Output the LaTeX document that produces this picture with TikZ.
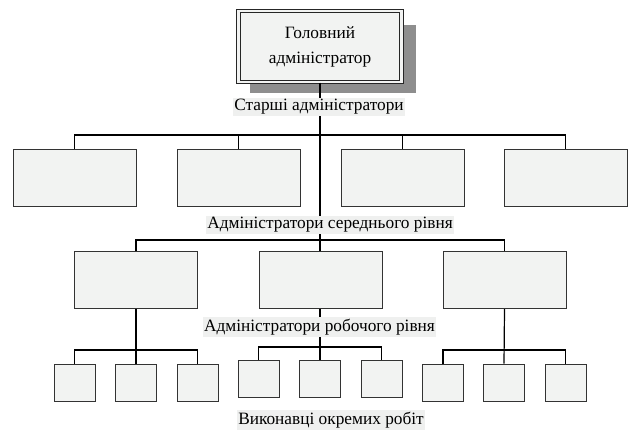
\documentclass[tikz,border=0pt]{standalone}
\usepackage{fontspec}
\setmainfont{Liberation Serif}
\definecolor{boxfill}{HTML}{F2F3F2}
\definecolor{lblfill}{HTML}{EFF0EF}
\definecolor{shadowgray}{HTML}{8E8E8E}
\tikzset{
  box/.style={draw=black!80, fill=boxfill, line width=1pt, minimum width=123pt, minimum height=57pt, inner sep=0pt},
  sbox/.style={box, minimum width=41pt, minimum height=37pt},
  lbl/.style={fill=lblfill, inner sep=1.5pt, font=\fontsize{17.3}{20}\selectfont},
  conn/.style={line width=1.2pt, draw=black},
}
\begin{document}
\begin{tikzpicture}[x=1pt,y=-1pt]
\useasboundingbox (0,0) rectangle (628,431);
% shadow of the top box
\fill[shadowgray] (250,25) rectangle (416,93);
\node[draw=black!85, fill=boxfill, double=boxfill, line width=1pt, double distance=2.6pt,
      minimum width=163pt, minimum height=71pt, inner sep=0pt, align=center,
      font=\fontsize{17.3}{25}\selectfont] (top) at (320,46.5) {Головний\\адміністратор};
% level 1
\node[box] (a1) at (74.5,177.5) {};
\node[box] (a2) at (238.5,177.5) {};
\node[box] (a3) at (402.5,177.5) {};
\node[box] (a4) at (565.5,177.5) {};
% level 2
\node[box] (b1) at (136,280) {};
\node[box] (b2) at (320.5,280) {};
\node[box] (b3) at (504.5,280) {};
% level 3
\node[sbox] (c1) at (74.5,382.5) {};
\node[sbox] (c2) at (136,382.5) {};
\node[sbox] (c3) at (197.5,382.5) {};
\node[sbox] (d1) at (258.5,379) {};
\node[sbox] (d2) at (320,379) {};
\node[sbox] (d3) at (381.5,379) {};
\node[sbox] (e1) at (443,382.5) {};
\node[sbox] (e2) at (504,382.5) {};
\node[sbox] (e3) at (565.5,382.5) {};
% junctions
\coordinate (h1) at (320,135);
\coordinate (h2) at (320,240);
\coordinate (h3a) at (136,350);
\coordinate (h3b) at (320,347);
\coordinate (h3c) at (504,350);
% connectors
\draw[conn] (top.south) -- (top.south |- b2.north);
\draw[conn] (a1.north) |- (h1) -| (a4.north);
\draw[conn] (a2.north) |- (h1);
\draw[conn] (a3.north) |- (h1);
\draw[conn] (b1.north) |- (h2) -| (b3.north);
\draw[conn] (b1.south) -- (c2.north);
\draw[conn] (c1.north) |- (h3a) -| (c3.north);
\draw[conn] (b2.south -| h3b) -- (d2.north);
\draw[conn] (d1.north) |- (h3b) -| (d3.north);
\draw[conn] (b3.south) -- (e2.north);
\draw[conn] (e1.north) |- (h3c) -| (e3.north);
% labels
\node[lbl] (l1) at (319,107) {Старші адміністратори};
\node[lbl] (l2) at (330,225) {Адміністратори середнього рівня};
\node[lbl] (l3) at (319.5,327) {Адміністратори робочого рівня};
\node[lbl] (l4) at (331,420) {Виконавці окремих робіт};
\end{tikzpicture}
\end{document}
